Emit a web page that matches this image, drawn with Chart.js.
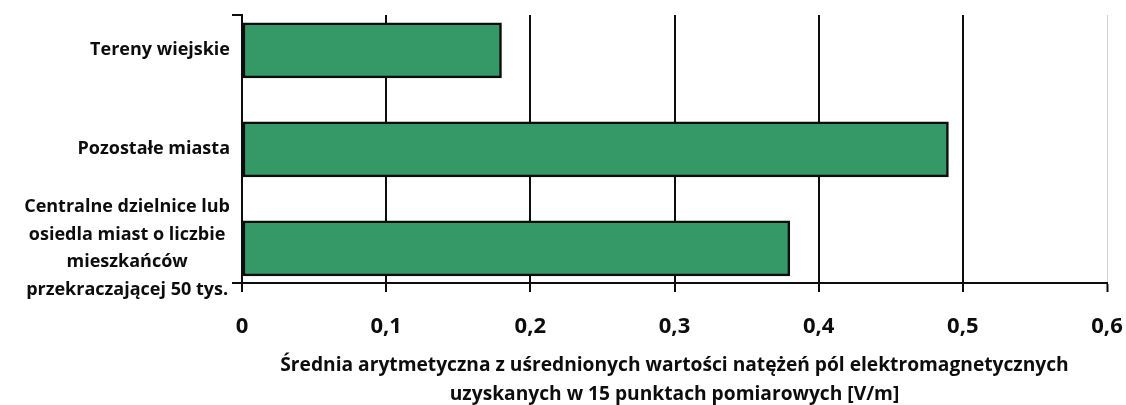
<!DOCTYPE html>
<html>
<head>
<meta charset="utf-8">
<script src="https://cdn.jsdelivr.net/npm/chart.js@4/dist/chart.umd.min.js"></script>
<style>
  html, body { margin: 0; padding: 0; background: #fff; }
  #wrap { width: 1126px; height: 405px; position: relative; }
</style>
</head>
<body>
<div id="wrap"><canvas id="c"></canvas></div>
<script>
// ---- data ----
const categories = [
  ["Tereny wiejskie"],
  ["Pozostałe miasta"],
  ["Centralne dzielnice lub", "osiedla miast o liczbie", "mieszkańców", "przekraczającej 50 tys."]
];
const values = [0.18, 0.49, 0.38];
const xMin = 0, xMax = 0.6, xStep = 0.1;
const axisTitle = [
  "Średnia arytmetyczna z uśrednionych wartości natężeń pól elektromagnetycznych",
  "uzyskanych w 15 punktach pomiarowych [V/m]"
];

const FONT = "'Open Sans', Lato, sans-serif";
const INK = "#0d0d0d";

// category labels drawn as centred text blocks at each bar's position
const catLabels = {
  id: 'catLabels',
  afterDraw(chart) {
    const ctx = chart.ctx;
    const ys = chart.scales.y;
    const area = chart.chartArea;
    ctx.save();
    ctx.font = "bold 18px " + FONT;
    ctx.fillStyle = INK;
    ctx.textAlign = "center";
    ctx.textBaseline = "middle";
    const lh = 27.5;
    categories.forEach((lines, i) => {
      const w = Math.max(...lines.map(l => ctx.measureText(l).width));
      const cx = area.left - 12 - w / 2;
      const cy = ys.getPixelForValue(i);
      const y0 = cy - (lines.length - 1) * lh / 2;
      lines.forEach((l, k) => ctx.fillText(l, cx, y0 + k * lh));
    });
    // small tick stubs at top and bottom of the category axis
    ctx.strokeStyle = INK;
    ctx.lineWidth = 2;
    ctx.beginPath();
    ctx.moveTo(area.left - 10, area.top); ctx.lineTo(area.left, area.top);
    ctx.moveTo(area.left - 10, area.bottom); ctx.lineTo(area.left, area.bottom);
    ctx.stroke();
    ctx.restore();
  }
};

new Chart(document.getElementById('c'), {
  type: 'bar',
  data: {
    datasets: [{
      data: values.map((v, i) => ({ x: v, y: i })),
      backgroundColor: '#349966',
      borderColor: INK,
      borderWidth: 2.5,
      borderSkipped: false,
      barThickness: 55
    }]
  },
  options: {
    indexAxis: 'y',
    responsive: true,
    maintainAspectRatio: false,
    animation: false,
    layout: { padding: { top: 15, right: 19, bottom: 0, left: 0 } },
    plugins: { legend: { display: false }, tooltip: { enabled: false } },
    scales: {
      x: {
        type: 'linear',
        position: 'bottom',
        min: xMin, max: xMax,
        afterFit(s) { s.height = 122; s.paddingLeft = 0; s.paddingRight = 0; },
        ticks: {
          stepSize: xStep,
          color: INK,
          padding: 22,
          font: { family: FONT, size: 22, weight: 'bold' },
          callback: v => v === 0 ? '0' : v.toFixed(1).replace('.', ',')
        },
        grid: {
          color: ctx => (ctx.tick && Math.abs(ctx.tick.value - xMax) < 1e-9) ? '#d0d0d0' : INK,
          lineWidth: ctx => (ctx.tick && Math.abs(ctx.tick.value - xMax) < 1e-9) ? 1 : 2,
          tickColor: INK,
          tickLength: 9,
          tickWidth: 2
        },
        border: { display: true, color: INK, width: 2 },
        title: {
          display: true,
          text: axisTitle,
          color: INK,
          padding: { top: 4, bottom: -4 },
          font: { family: FONT, size: 19.2, weight: 'bold', lineHeight: 1.51 }
        }
      },
      y: {
        type: 'linear',
        reverse: true,
        offset: false,
        min: -0.357, max: 2.35,
        afterFit(s) { s.width = 242; s.paddingTop = 0; s.paddingBottom = 0; },
        ticks: { display: false },
        grid: { display: false, offset: false },
        border: { display: true, color: INK, width: 2 }
      }
    }
  },
  plugins: [catLabels]
});
</script>
</body>
</html>
